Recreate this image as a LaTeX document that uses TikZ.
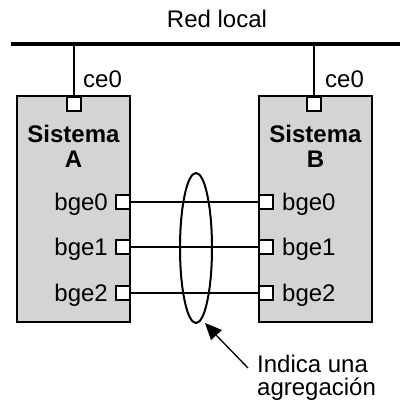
\documentclass[tikz,border=0pt]{standalone}
\usepackage{fontspec}
\setmainfont{Liberation Sans}
\usetikzlibrary{shapes.geometric}
\definecolor{boxgray}{RGB}{212,212,212}
\begin{document}
\begin{tikzpicture}[x=1pt,y=-1pt,
  sysbox/.style={draw=black,line width=2.3pt,fill=boxgray,minimum width=113pt,minimum height=226pt,inner sep=0pt},
  port/.style={draw=black,line width=2.3pt,fill=white,minimum size=14pt,inner sep=0pt},
  lbl/.style={font=\fontsize{24}{26}\selectfont,inner sep=0pt,anchor=base},
  blbl/.style={lbl,font=\fontsize{24}{26}\selectfont\bfseries},
  link/.style={line width=1.8pt}]
\useasboundingbox (0,0) rectangle (400,405);
% title and bus
\node[lbl] (title) at (217,27) {Red local};
\coordinate (busL) at (11,44);
\coordinate (busR) at (400,44);
\draw[line width=4.2pt] (busL) -- (busR);
% systems
\node[sysbox] (A) at (73.5,209) {};
\node[sysbox] (B) at (315.5,209) {};
% top ports
\node[port] (ceA) at (74,104) {};
\node[port] (ceB) at (314,104) {};
\coordinate (tapA) at (74,44);
\coordinate (tapB) at (314,44);
\draw[link] (tapA) -- (ceA.north);
\draw[link] (tapB) -- (ceB.north);
\node[lbl,anchor=base west] (ceAl) at (83,87) {ce0};
\node[lbl,anchor=base west] (ceBl) at (325,87) {ce0};
% system titles
\node[blbl] (sA1) at (73.5,142) {Sistema};
\node[blbl] (sA2) at (73.5,167) {A};
\node[blbl] (sB1) at (315.5,142) {Sistema};
\node[blbl] (sB2) at (315.5,167) {B};
% bge ports
\foreach \i/\y in {0/202,1/247,2/293}{
  \node[port] (pA\i) at (123,\y) {};
  \node[port] (pB\i) at (266,\y) {};
  \draw[link] (pA\i.east) -- (pB\i.west);
  \node[lbl,anchor=base east] (lA\i) at (108,\y+8) {bge\i};
  \node[lbl,anchor=base west] (lB\i) at (282,\y+8) {bge\i};
}
% aggregation ellipse
\node[ellipse,draw=black,line width=2pt,minimum width=32pt,minimum height=150pt,inner sep=0pt] (agg) at (196,248) {};
\node[lbl,anchor=base west] (note1) at (257,372) {Indica una};
\node[lbl,anchor=base west] (note2) at (257,395) {agregación};
\coordinate (arrS) at (248,368);
\coordinate (tip) at (205,323);
\coordinate (h1) at (222,330);
\coordinate (h2) at (211,340);
\coordinate (hbase) at (216,335);
\draw[line width=1.3pt] (arrS) -- (hbase);
\fill[black] (tip) -- (h1) -- (h2) -- cycle;
\end{tikzpicture}
\end{document}
